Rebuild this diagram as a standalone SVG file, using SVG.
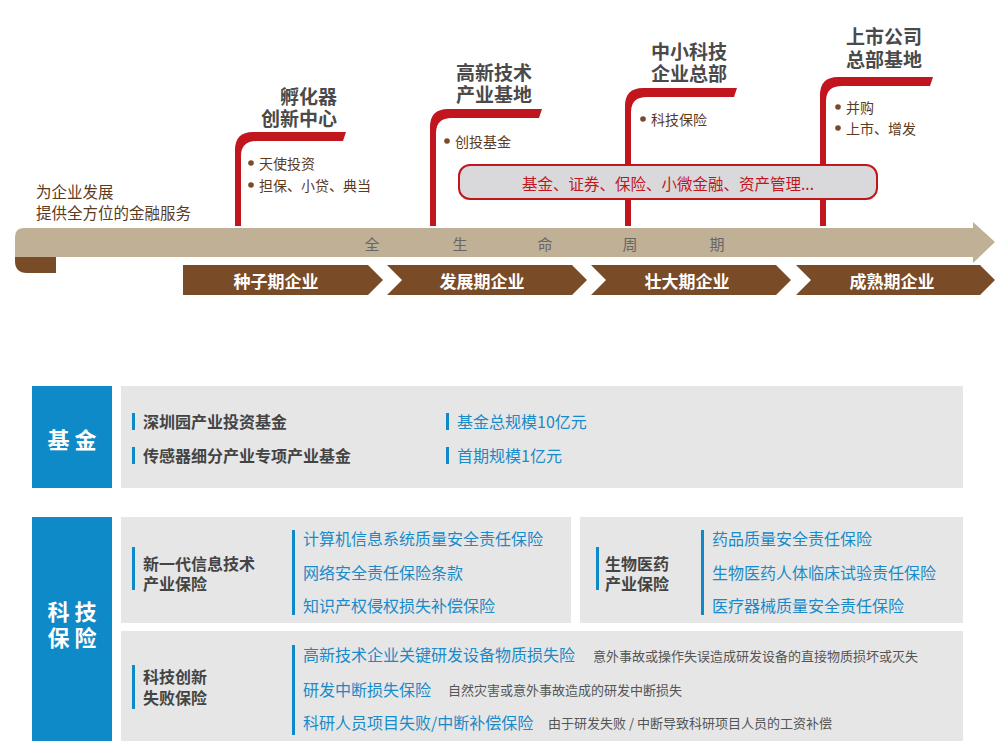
<svg xmlns="http://www.w3.org/2000/svg" width="1000" height="753" viewBox="0 0 1000 753">
<style>
text{font-family:"Noto Sans CJK SC","Noto Sans",sans-serif;dominant-baseline:central}
.ttl{font-size:19px;font-weight:bold;fill:#4a4a4a;text-anchor:end}
.bul{font-size:14px;fill:#5c3a1c}
.dot{fill:#7a4b26}
.flag{fill:#c1161e}
.stage{fill:#7a4b27}
.stxt{font-size:17px;font-weight:bold;fill:#fff;text-anchor:middle}
.cyc{font-size:15px;fill:#666;text-anchor:middle}
.blue{fill:#0f8ac8}
.panel{fill:#e6e6e6}
.head{font-size:22px;font-weight:bold;fill:#fff;text-anchor:middle}
.lbl{font-size:16px;font-weight:bold;fill:#444}
.item{font-size:16px;fill:#1a8ac8}
.note{font-size:13px;fill:#555}
.intro{font-size:15.5px;fill:#5c3a1c}
</style>
<rect width="1000" height="753" fill="#fff"/>

<g id="intro">
<text class="intro" x="36" y="191">为企业发展</text>
<text class="intro" x="36" y="212">提供全方位的金融服务</text>
</g>

<g id="banner">
<path d="M56 250 L56 273 L27 273 Q15 273 15 261 L15 250 Z" fill="#7a4b27"/>
<path d="M24 228 L973 228 L973 222 L995 242 L973 263 L973 257 L15 257 L15 237 Q15 228 24 228 Z" fill="#bfb096"/>
<text class="cyc" x="372" y="243">全</text>
<text class="cyc" x="460" y="243">生</text>
<text class="cyc" x="545" y="243">命</text>
<text class="cyc" x="630" y="243">周</text>
<text class="cyc" x="717" y="243">期</text>
</g>

<g id="stages">
<path class="stage" d="M183 265 L368 265 L383 280 L368 295 L183 295 Z"/>
<path class="stage" d="M387 265 L572 265 L587 280 L572 295 L387 295 L402 280 Z"/>
<path class="stage" d="M591 265 L776 265 L791 280 L776 295 L591 295 L606 280 Z"/>
<path class="stage" d="M796 265 L980 265 L995 280 L980 295 L796 295 L811 280 Z"/>
<text class="stxt" x="276" y="280">种子期企业</text>
<text class="stxt" x="482" y="280">发展期企业</text>
<text class="stxt" x="687" y="280">壮大期企业</text>
<text class="stxt" x="892" y="280">成熟期企业</text>
</g>

<g id="flag1">
<path class="flag" d="M235 226 L235 150 Q235 132 253 132 L346 132 L343 141 L257 141 Q241 141 241 156 L241 226 Z"/>
<text class="ttl" x="337" y="95">孵化器</text>
<text class="ttl" x="337" y="117">创新中心</text>
<circle class="dot" cx="251" cy="163" r="2.8"/>
<text class="bul" x="259" y="163">天使投资</text>
<circle class="dot" cx="251" cy="185" r="2.8"/>
<text class="bul" x="259" y="185">担保、小贷、典当</text>
</g>

<g id="flag2">
<path class="flag" d="M430 226 L430 127 Q430 109 448 109 L542 109 L539 118 L452 118 Q436 118 436 133 L436 226 Z"/>
<text class="ttl" x="532" y="71">高新技术</text>
<text class="ttl" x="532" y="93">产业基地</text>
<circle class="dot" cx="447" cy="141" r="2.8"/>
<text class="bul" x="455" y="141">创投基金</text>
</g>

<g id="flag3">
<path class="flag" d="M625 226 L625 106 Q625 88 643 88 L737 88 L734 97 L647 97 Q631 97 631 112 L631 226 Z"/>
<text class="ttl" x="727" y="50">中小科技</text>
<text class="ttl" x="727" y="72">企业总部</text>
<circle class="dot" cx="643" cy="119" r="2.8"/>
<text class="bul" x="651" y="119">科技保险</text>
</g>

<g id="flag4">
<path class="flag" d="M820 226 L820 95 Q820 77 838 77 L933 77 L930 86 L842 86 Q826 86 826 101 L826 226 Z"/>
<text class="ttl" x="922" y="35">上市公司</text>
<text class="ttl" x="922" y="58">总部基地</text>
<circle class="dot" cx="838" cy="107" r="2.8"/>
<text class="bul" x="846" y="107">并购</text>
<circle class="dot" cx="838" cy="128" r="2.8"/>
<text class="bul" x="846" y="128">上市、增发</text>
</g>

<g id="services">
<rect x="459" y="165" width="418" height="34" rx="11" fill="#d9d9db" stroke="#c1161e" stroke-width="2"/>
<text x="668" y="183" font-size="15.5" fill="#c1161e" text-anchor="middle">基金、证券、保险、小微金融、资产管理...</text>
</g>

<g id="fund">
<rect class="blue" x="32" y="386" width="80" height="102"/>
<text class="head" x="72" y="438">基 金</text>
<rect class="panel" x="121" y="386" width="842" height="102"/>
<rect class="blue" x="132" y="413" width="3" height="17"/>
<text class="lbl" x="143" y="421">深圳园产业投资基金</text>
<rect class="blue" x="132" y="447" width="3" height="17"/>
<text class="lbl" x="143" y="455">传感器细分产业专项产业基金</text>
<rect class="blue" x="446" y="413" width="3" height="17"/>
<text class="item" x="457" y="421">基金总规模10亿元</text>
<rect class="blue" x="446" y="447" width="3" height="17"/>
<text class="item" x="457" y="455">首期规模1亿元</text>
</g>

<g id="insurance">
<rect class="blue" x="32" y="517" width="80" height="224"/>
<text class="head" x="72" y="610">科 技</text>
<text class="head" x="72" y="636">保 险</text>
</g>

<g id="it-insurance">
<rect class="panel" x="121" y="517" width="450" height="106"/>
<rect class="blue" x="132" y="547" width="3" height="43"/>
<text class="lbl" x="143" y="563">新一代信息技术</text>
<text class="lbl" x="143" y="583">产业保险</text>
<rect class="blue" x="292" y="530" width="3" height="85"/>
<text class="item" x="303" y="538">计算机信息系统质量安全责任保险</text>
<text class="item" x="303" y="572">网络安全责任保险条款</text>
<text class="item" x="303" y="605">知识产权侵权损失补偿保险</text>
</g>

<g id="bio-insurance">
<rect class="panel" x="580" y="517" width="383" height="106"/>
<rect class="blue" x="596" y="547" width="3" height="43"/>
<text class="lbl" x="605" y="563">生物医药</text>
<text class="lbl" x="605" y="583">产业保险</text>
<rect class="blue" x="701" y="530" width="3" height="85"/>
<text class="item" x="712" y="538">药品质量安全责任保险</text>
<text class="item" x="712" y="572">生物医药人体临床试验责任保险</text>
<text class="item" x="712" y="605">医疗器械质量安全责任保险</text>
</g>

<g id="rd-insurance">
<rect class="panel" x="121" y="631" width="842" height="110"/>
<rect class="blue" x="132" y="665" width="3" height="44"/>
<text class="lbl" x="143" y="676">科技创新</text>
<text class="lbl" x="143" y="697">失败保险</text>
<rect class="blue" x="292" y="645" width="3" height="90"/>
<text class="item" x="303" y="654">高新技术企业关键研发设备物质损失险</text>
<text class="note" x="593" y="655">意外事故或操作失误造成研发设备的直接物质损坏或灭失</text>
<text class="item" x="303" y="689">研发中断损失保险</text>
<text class="note" x="448" y="689">自然灾害或意外事故造成的研发中断损失</text>
<text class="item" x="303" y="722">科研人员项目失败/中断补偿保险</text>
<text class="note" x="548" y="722">由于研发失败 / 中断导致科研项目人员的工资补偿</text>
</g>
</svg>
